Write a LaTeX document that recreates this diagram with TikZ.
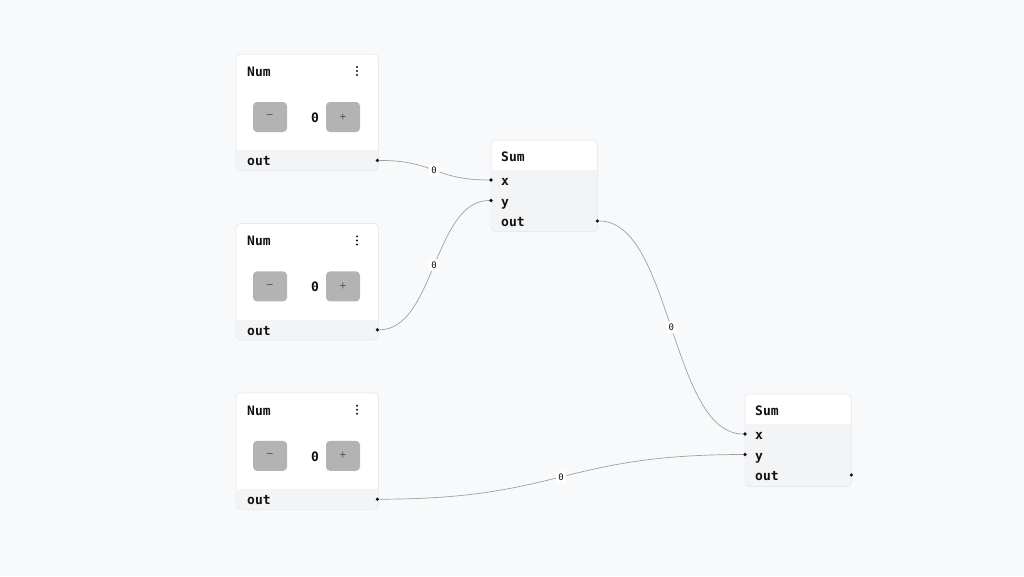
\documentclass[tikz,border=0pt]{standalone}
\usepackage{fontspec}
\setmonofont{DejaVu Sans Mono}
\usetikzlibrary{positioning}
\usetikzlibrary{shadows}
\usepackage{xcolor}
\definecolor{bgcol}{HTML}{F8F9FB}
\definecolor{cardline}{HTML}{E6E8EC}
\definecolor{rowfill}{HTML}{F3F4F6}
\definecolor{btnfill}{HTML}{B3B3B3}
\definecolor{ink}{HTML}{111111}
\definecolor{wirecol}{HTML}{A0A0A0}

\begin{document}
\begin{tikzpicture}[x=1pt, y=-1pt, node distance=53pt,
  card/.style={draw=cardline, fill=white, rounded corners=4pt, inner sep=0pt, anchor=north west,
    drop shadow={opacity=0.05, shadow xshift=0pt, shadow yshift=-1pt}},
  txt/.style={font=\fontsize{13}{15}\selectfont\ttfamily\bfseries, text=ink, anchor=west,
    inner sep=0pt, text height=11pt, text depth=0pt},
  btn/.style={fill=btnfill, rounded corners=4pt, minimum width=34pt, minimum height=30pt,
    inner sep=0pt, text=black!65, font=\fontsize{11}{12}\selectfont\ttfamily},
  handle/.style={circle, fill=ink, inner sep=0pt, minimum size=3.6pt},
  wire/.style={draw=wirecol, line width=0.7pt},
  lbl/.style={fill=white, rounded corners=2pt, inner sep=2.5pt, text=ink,
    font=\fontsize{9}{10}\selectfont\ttfamily}]

  % background
  \fill[bgcol] (0,0) rectangle (1024,576);
  \useasboundingbox (0,0) rectangle (1024,576);

  % Num cards (stacked)
  \node[card, minimum width=142pt, minimum height=116pt] (num1) at (236,54) {};
  \node[card, minimum width=142pt, minimum height=116pt, below=of num1] (num2) {};
  \node[card, minimum width=142pt, minimum height=116pt, below=of num2] (num3) {};

  \foreach \n in {1,2,3} {
    \begin{scope}
      \clip[rounded corners=4pt] (num\n.north west) rectangle (num\n.south east);
      \fill[rowfill] ([shift={(0,-20)}]num\n.south west) rectangle (num\n.south east);
    \end{scope}
    \draw[cardline, rounded corners=4pt] (num\n.north west) rectangle (num\n.south east);
    \node[txt] (num\n-title) at ([shift={(11,17)}]num\n.north west) {Num};
    \foreach \d in {13,17,21}
      \fill[ink] ([shift={(121,\d)}]num\n.north west) circle (1.1pt);
    \node[btn] (num\n-minus) at ([shift={(34,63)}]num\n.north west) {−};
    \node[txt, anchor=center] (num\n-val) at ([shift={(79,63)}]num\n.north west) {0};
    \node[btn] (num\n-plus) at ([shift={(107,63)}]num\n.north west) {+};
    \node[txt] (num\n-outl) at ([shift={(11,-10)}]num\n.south west) {out};
    \node[handle] (num\n-out) at ([shift={(-1,-10)}]num\n.south east) {};
  }

  % Sum cards
  \node[card, minimum width=106pt, minimum height=91pt] (sum1) at (491,140) {};
  \node[card, minimum width=106pt, minimum height=92pt] (sum2) at (745,394) {};

  \foreach \s in {sum1,sum2} {
    \begin{scope}
      \clip[rounded corners=4pt] (\s.north west) rectangle (\s.south east);
      \fill[rowfill] ([shift={(0,30)}]\s.north west) rectangle (\s.south east);
    \end{scope}
    \draw[cardline, rounded corners=4pt] (\s.north west) rectangle (\s.south east);
    \node[txt] (\s-title) at ([shift={(10,16)}]\s.north west) {Sum};
    \node[txt] (\s-xl) at ([shift={(10,40)}]\s.north west) {x};
    \node[txt] (\s-yl) at ([shift={(10,60.5)}]\s.north west) {y};
    \node[txt] (\s-outl) at ([shift={(10,81)}]\s.north west) {out};
    \node[handle] (\s-x) at ([shift={(0,40)}]\s.north west) {};
    \node[handle] (\s-y) at ([shift={(0,60.5)}]\s.north west) {};
    \node[handle] (\s-out) at ([shift={(0,81)}]\s.north east) {};
  }

  % wires
  \path[wire]
    (num1-out) .. controls +(57,0) and +(-57,0) .. node[lbl] {0} (sum1-x)
    (num2-out) .. controls +(57,0) and +(-57,0) .. node[lbl] {0} (sum1-y)
    (sum1-out) .. controls +(74,0) and +(-74,0) .. node[lbl] {0} (sum2-x)
    (num3-out) .. controls +(184,0) and +(-184,0) .. node[lbl] {0} (sum2-y);
\end{tikzpicture}
\end{document}
